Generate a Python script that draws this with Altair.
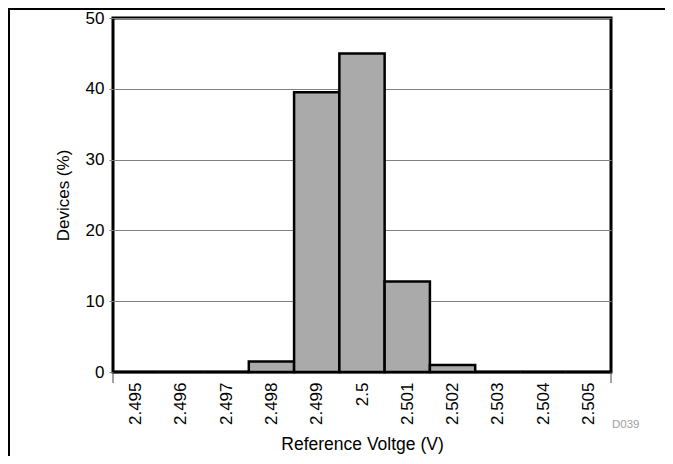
import altair as alt
import pandas as pd

voltages = [2.495, 2.496, 2.497, 2.498, 2.499, 2.500, 2.501, 2.502, 2.503, 2.504, 2.505]
devices_pct = [0, 0, 0, 1.5, 39.5, 45.0, 12.8, 1.0, 0, 0, 0]
y_ticks = [0, 10, 20, 30, 40, 50]

half = 0.0005
df = pd.DataFrame({
    "v": voltages,
    "lo": [v - half for v in voltages],
    "hi": [v + half for v in voltages],
    "pct": devices_pct,
})

FONT = "Arial, Liberation Sans"
xscale = alt.Scale(domain=[2.4945, 2.5055], nice=False, zero=False)
yscale = alt.Scale(domain=[0, 50], nice=False)

bars = alt.Chart(df).mark_bar(
    fill="#aaaaaa", stroke="black", strokeWidth=2.5
).encode(
    x=alt.X("lo:Q", scale=xscale,
            axis=alt.Axis(values=voltages, title="Reference Voltge (V)",
                          labelAngle=270, ticks=False, domain=False, grid=False,
                          labelFontSize=17, labelFont=FONT, labelColor="black",
                          labelPadding=10, labelExpr="datum.value == 2.5 ? '2.5' : format(datum.value, '.3f')",
                          titleFontSize=17.5, titleFont=FONT, titleFontWeight="normal",
                          titleColor="black", titlePadding=11, labelFlush=False, labelOverlap=False)),
    x2="hi:Q",
    y=alt.Y("pct:Q", scale=yscale,
            axis=alt.Axis(values=y_ticks, title="Devices (%)", grid=True,
                          gridColor="#808080", gridWidth=1, domain=False,
                          tickSize=4, tickColor="#808080",
                          labelFontSize=17, labelFont=FONT, labelColor="black",
                          labelPadding=5,
                          titleFontSize=17, titleFont=FONT, titleFontWeight="normal",
                          titleColor="black", titlePadding=13)),
    y2=alt.datum(0),
)

edge_df = pd.DataFrame({"e": [2.4945, 2.5055]})
edge_ticks = alt.Chart(edge_df).mark_rule(color="#444444", strokeWidth=1).encode(
    x=alt.X("e:Q", scale=xscale),
    y=alt.value(354), y2=alt.value(365),
)

code = alt.Chart(pd.DataFrame({"t": ["D039"]})).mark_text(
    color="#a0a0a0", fontSize=11.5, font=FONT, align="left", baseline="alphabetic"
).encode(text="t:N", x=alt.value(499), y=alt.value(410))

frame_left = alt.Chart(pd.DataFrame({"a": [0]})).mark_rule(color="black", strokeWidth=2).encode(
    x=alt.value(-104), y=alt.value(-10), y2=alt.value(450))
frame_top = alt.Chart(pd.DataFrame({"a": [0]})).mark_rule(color="black", strokeWidth=2).encode(
    x=alt.value(-105), x2=alt.value(560), y=alt.value(-9))

chart = alt.layer(bars, edge_ticks, code, frame_left, frame_top).properties(
    width=498, height=354,
    autosize=alt.AutoSizeParams(type="none"),
    padding={"left": 105, "top": 10, "right": 54, "bottom": 84},
).configure_view(stroke="black", strokeWidth=3)

chart.save("out.html", embed_options={"renderer": "svg", "actions": False})
